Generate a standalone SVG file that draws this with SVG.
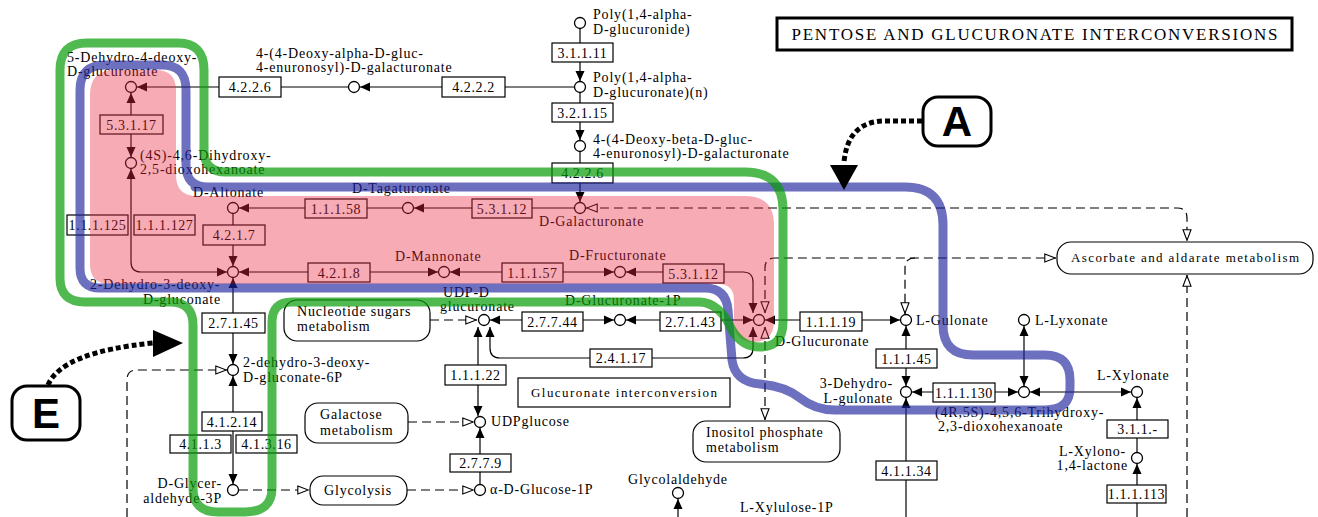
<svg xmlns="http://www.w3.org/2000/svg" width="1318" height="517" viewBox="0 0 1318 517">
<style>
.c{fill:#fff;stroke:#000;stroke-width:1.3}
.e{fill:#fff;stroke:#000;stroke-width:1.2}
.m{fill:#fff;stroke:#000;stroke-width:1.2}
text{font-family:"Liberation Serif","DejaVu Serif",serif;fill:#000}
.t{font-size:14px;letter-spacing:0.8px}
.r{text-anchor:end}
.et{font-size:14px;letter-spacing:0.6px;text-anchor:middle}
.mt{font-size:13px}
.mc{text-anchor:middle}
.ln{stroke:#000;stroke-width:1.2;fill:none}
.dl{stroke:#000;stroke-width:1.2;fill:none;stroke-dasharray:9 5}
.dot{stroke:#000;stroke-width:5;fill:none;stroke-dasharray:5 3}
.cap{font-family:"Liberation Sans",Arial,sans-serif;font-weight:bold;font-size:42px;text-anchor:middle}
</style>
<defs>
<marker id="ah" viewBox="0 0 10 10" refX="10" refY="5" markerWidth="10" markerHeight="10" markerUnits="userSpaceOnUse" orient="auto-start-reverse"><path d="M0,0.5L10,5L0,9.5Z" fill="#000"/></marker>
<marker id="oh" viewBox="0 0 12 10" refX="12" refY="5" markerWidth="12" markerHeight="10" markerUnits="userSpaceOnUse" orient="auto-start-reverse"><path d="M0.8,1L11.3,5L0.8,9Z" fill="#fff" stroke="#000" stroke-width="1.1"/></marker>
</defs>
<rect x="0" y="0" width="1318" height="517" fill="#fff"/>

<g id="connectors">
<path class="ln" d="M348 87L137 87" marker-end="url(#ah)"/>
<path class="ln" d="M574 87L360 87" marker-end="url(#ah)"/>
<path class="ln" d="M580 29L580 81" marker-end="url(#ah)"/>
<path class="ln" d="M580 93L580 140" marker-end="url(#ah)"/>
<path class="ln" d="M580 152L580 202" marker-end="url(#ah)"/>
<path class="ln" d="M574 208L414 208" marker-end="url(#ah)"/>
<path class="ln" d="M402 208L239 208" marker-end="url(#ah)"/>
<path class="ln" d="M233 214L233 266" marker-end="url(#ah)"/>
<path class="ln" d="M131 157L131 93" marker-start="url(#ah)" marker-end="url(#ah)"/>
<path class="ln" d="M131 169L131 262Q131 272 141 272L227 272" marker-start="url(#ah)" marker-end="url(#ah)"/>
<path class="ln" d="M438 272L239 272" marker-start="url(#ah)" marker-end="url(#ah)"/>
<path class="ln" d="M614 272L450 272" marker-start="url(#ah)" marker-end="url(#ah)"/>
<path class="ln" d="M626 272L743 272Q753 272 753 282L753 313" marker-start="url(#ah)" marker-end="url(#ah)"/>
<path class="ln" d="M626 320L753 320" marker-start="url(#ah)" marker-end="url(#ah)"/>
<path class="ln" d="M614 320L490 320" marker-start="url(#ah)" marker-end="url(#ah)"/>
<path class="ln" d="M765 320L900 320" marker-start="url(#ah)" marker-end="url(#ah)"/>
<path class="ln" d="M753 327L753 348Q753 358 743 358L500 358Q490 358 490 348L490 327" marker-start="url(#ah)" marker-end="url(#ah)"/>
<path class="ln" d="M478 327L478 416" marker-start="url(#ah)" marker-end="url(#ah)"/>
<path class="ln" d="M480 484L480 428" marker-end="url(#ah)"/>
<path class="ln" d="M233 278L233 364" marker-start="url(#ah)" marker-end="url(#ah)"/>
<path class="ln" d="M233 376L233 484" marker-start="url(#ah)" marker-end="url(#ah)"/>
<path class="ln" d="M906 326L906 386" marker-start="url(#ah)" marker-end="url(#ah)"/>
<path class="ln" d="M912 392L1018 392" marker-start="url(#ah)" marker-end="url(#ah)"/>
<path class="ln" d="M1024 326L1024 386" marker-start="url(#ah)" marker-end="url(#ah)"/>
<path class="ln" d="M1030 392L1131 392" marker-start="url(#ah)" marker-end="url(#ah)"/>
<path class="ln" d="M1137 452L1137 398" marker-end="url(#ah)"/>
<path class="ln" d="M1137 517L1137 464" marker-end="url(#ah)"/>
<path class="ln" d="M906 517L906 398" marker-end="url(#ah)"/>
<path class="ln" d="M678 517L678 499" marker-end="url(#ah)"/>
<path class="dl" d="M586 208L1177 208Q1187 208 1187 218L1187 241" marker-start="url(#oh)" marker-end="url(#oh)"/>
<path class="dl" d="M765 313L765 268Q765 258 775 258L1056 258" marker-start="url(#oh)" marker-end="url(#oh)"/>
<path class="dl" d="M915 258Q905 258 905 268L905 314" marker-end="url(#oh)"/>
<path class="dl" d="M765 327L765 420" marker-start="url(#oh)" marker-end="url(#oh)"/>
<path class="dl" d="M430 320L477 320" marker-end="url(#oh)"/>
<path class="dl" d="M408 422L474 422" marker-end="url(#oh)"/>
<path class="dl" d="M239 490L309 490" marker-end="url(#oh)"/>
<path class="dl" d="M407 490L474 490" marker-end="url(#oh)"/>
<path class="dl" d="M127 517L127 380Q127 370 137 370L227 370" marker-end="url(#oh)"/>
<path class="dl" d="M1187 517L1187 275" marker-end="url(#oh)"/>
</g>

<g id="enzymes">
<g id="e-4.2.2.6a"><rect class="e" x="219" y="77" width="62" height="20"/><text class="et" x="250" y="92">4.2.2.6</text></g>
<g id="e-4.2.2.2"><rect class="e" x="442" y="77" width="63" height="20"/><text class="et" x="473.5" y="92">4.2.2.2</text></g>
<g id="e-3.1.1.11"><rect class="e" x="552" y="43" width="61" height="19"/><text class="et" x="582.5" y="57.5">3.1.1.11</text></g>
<g id="e-3.2.1.15"><rect class="e" x="552" y="103" width="61" height="19"/><text class="et" x="582.5" y="117.5">3.2.1.15</text></g>
<g id="e-4.2.2.6b"><rect class="e" x="552" y="163" width="61" height="20"/><text class="et" x="582.5" y="178">4.2.2.6</text></g>
<g id="e-5.3.1.17"><rect class="e" x="100" y="115" width="63" height="19"/><text class="et" x="131.5" y="129.5">5.3.1.17</text></g>
<g id="e-1.1.1.125"><rect class="e" x="67" y="215" width="61" height="20"/><text class="et" x="97.5" y="230">1.1.1.125</text></g>
<g id="e-1.1.1.127"><rect class="e" x="134" y="215" width="61" height="20"/><text class="et" x="164.5" y="230">1.1.1.127</text></g>
<g id="e-5.3.1.12a"><rect class="e" x="472" y="199" width="60" height="19"/><text class="et" x="502" y="213.5">5.3.1.12</text></g>
<g id="e-1.1.1.58"><rect class="e" x="305" y="199" width="62" height="19"/><text class="et" x="336" y="213.5">1.1.1.58</text></g>
<g id="e-4.2.1.7"><rect class="e" x="203" y="225" width="62" height="20"/><text class="et" x="234" y="240">4.2.1.7</text></g>
<g id="e-4.2.1.8"><rect class="e" x="308" y="263" width="62" height="19"/><text class="et" x="339" y="277.5">4.2.1.8</text></g>
<g id="e-1.1.1.57"><rect class="e" x="502" y="263" width="61" height="19"/><text class="et" x="532.5" y="277.5">1.1.1.57</text></g>
<g id="e-5.3.1.12b"><rect class="e" x="663" y="264" width="61" height="19"/><text class="et" x="693.5" y="278.5">5.3.1.12</text></g>
<g id="e-2.7.1.45"><rect class="e" x="202" y="313" width="63" height="20"/><text class="et" x="233.5" y="328">2.7.1.45</text></g>
<g id="e-2.7.7.44"><rect class="e" x="522" y="312" width="61" height="19"/><text class="et" x="552.5" y="326.5">2.7.7.44</text></g>
<g id="e-2.7.1.43"><rect class="e" x="660" y="312" width="61" height="19"/><text class="et" x="690.5" y="326.5">2.7.1.43</text></g>
<g id="e-1.1.1.19"><rect class="e" x="800" y="312" width="62" height="19"/><text class="et" x="831" y="326.5">1.1.1.19</text></g>
<g id="e-2.4.1.17"><rect class="e" x="590" y="349" width="62" height="18"/><text class="et" x="621" y="363">2.4.1.17</text></g>
<g id="e-1.1.1.22"><rect class="e" x="445" y="365" width="61" height="20"/><text class="et" x="475.5" y="380">1.1.1.22</text></g>
<g id="e-1.1.1.45"><rect class="e" x="876" y="349" width="61" height="19"/><text class="et" x="906.5" y="363.5">1.1.1.45</text></g>
<g id="e-1.1.1.130"><rect class="e" x="933" y="383" width="62" height="19"/><text class="et" x="964" y="397.5">1.1.1.130</text></g>
<g id="e-3.1.1.-"><rect class="e" x="1107" y="420" width="61" height="18"/><text class="et" x="1137.5" y="434">3.1.1.-</text></g>
<g id="e-1.1.1.113"><rect class="e" x="1107" y="485" width="59" height="18"/><text class="et" x="1136.5" y="499">1.1.1.113</text></g>
<g id="e-4.1.1.34"><rect class="e" x="876" y="461" width="61" height="19"/><text class="et" x="906.5" y="475.5">4.1.1.34</text></g>
<g id="e-4.1.2.14"><rect class="e" x="202" y="412" width="60" height="19"/><text class="et" x="232" y="426.5">4.1.2.14</text></g>
<g id="e-4.1.1.3"><rect class="e" x="170" y="435" width="61" height="18"/><text class="et" x="200.5" y="449">4.1.1.3</text></g>
<g id="e-4.1.3.16"><rect class="e" x="236" y="435" width="61" height="18"/><text class="et" x="266.5" y="449">4.1.3.16</text></g>
<g id="e-2.7.7.9"><rect class="e" x="450" y="454" width="61" height="18"/><text class="et" x="480.5" y="468">2.7.7.9</text></g>
</g>

<g id="compounds">
<g id="c-5dehydro"><circle class="c" cx="131" cy="87" r="5.5"/><text class="t" x="67" y="62">5-Dehydro-4-deoxy-</text><text class="t" x="67" y="76">D-glucuronate</text></g>
<g id="c-deoxyalpha"><circle class="c" cx="354" cy="87" r="5.5"/><text class="t" x="256" y="58">4-(4-Deoxy-alpha-D-gluc-</text><text class="t" x="256" y="72">4-enuronosyl)-D-galacturonate</text></g>
<g id="c-polyglucuronide"><circle class="c" cx="580" cy="23" r="5.5"/><text class="t" x="593" y="19">Poly(1,4-alpha-</text><text class="t" x="593" y="34">D-glucuronide)</text></g>
<g id="c-polyn"><circle class="c" cx="580" cy="87" r="5.5"/><text class="t" x="593" y="82">Poly(1,4-alpha-</text><text class="t" x="593" y="97">D-glucuronate)(n)</text></g>
<g id="c-deoxybeta"><circle class="c" cx="580" cy="146" r="5.5"/><text class="t" x="593" y="144">4-(4-Deoxy-beta-D-gluc-</text><text class="t" x="593" y="158">4-enuronosyl)-D-galacturonate</text></g>
<g id="c-galacturonate"><circle class="c" cx="580" cy="208" r="5.5"/><text class="t" x="539" y="226">D-Galacturonate</text></g>
<g id="c-tagaturonate"><circle class="c" cx="408" cy="208" r="5.5"/><text class="t" x="352" y="193">D-Tagaturonate</text></g>
<g id="c-altonate"><circle class="c" cx="233" cy="208" r="5.5"/><text class="t" x="193" y="197">D-Altonate</text></g>
<g id="c-dihydroxy"><circle class="c" cx="131" cy="163" r="5.5"/><text class="t" x="140" y="160">(4S)-4,6-Dihydroxy-</text><text class="t" x="140" y="174">2,5-dioxohexanoate</text></g>
<g id="c-kdg"><circle class="c" cx="233" cy="272" r="5.5"/><text class="t" x="90" y="289">2-Dehydro-3-deoxy-</text><text class="t" x="143" y="304">D-gluconate</text></g>
<g id="c-mannonate"><circle class="c" cx="444" cy="272" r="5.5"/><text class="t" x="395" y="261">D-Mannonate</text></g>
<g id="c-fructuronate"><circle class="c" cx="620" cy="272" r="5.5"/><text class="t" x="569" y="260">D-Fructuronate</text></g>
<g id="c-glucuronate"><circle class="c" cx="759" cy="320" r="5.5"/><text class="t" x="775" y="346">D-Glucuronate</text></g>
<g id="c-udpglcA"><circle class="c" cx="484" cy="320" r="5.5"/><text class="t" x="443" y="297">UDP-D</text><text class="t" x="440" y="311">glucuronate</text></g>
<g id="c-glcA1p"><circle class="c" cx="620" cy="320" r="5.5"/><text class="t" x="565" y="305">D-Glucuronate-1P</text></g>
<g id="c-gulonate"><circle class="c" cx="906" cy="320" r="5.5"/><text class="t" x="916" y="325">L-Gulonate</text></g>
<g id="c-lyxonate"><circle class="c" cx="1024" cy="320" r="5.5"/><text class="t" x="1035" y="325">L-Lyxonate</text></g>
<g id="c-dehydrogulonate"><circle class="c" cx="906" cy="392" r="5.5"/><text class="t r" x="893" y="388">3-Dehydro-</text><text class="t r" x="893" y="403">L-gulonate</text></g>
<g id="c-trihydroxy"><circle class="c" cx="1024" cy="392" r="5.5"/><text class="t" x="935" y="417">(4R,5S)-4,5,6-Trihydroxy-</text><text class="t" x="938" y="431">2,3-dioxohexanoate</text></g>
<g id="c-xylonate"><circle class="c" cx="1137" cy="392" r="5.5"/><text class="t" x="1097" y="380">L-Xylonate</text></g>
<g id="c-xylonolactone"><circle class="c" cx="1137" cy="458" r="5.5"/><text class="t r" x="1126" y="456">L-Xylono-</text><text class="t r" x="1128" y="470">1,4-lactone</text></g>
<g id="c-kdg6p"><circle class="c" cx="233" cy="370" r="5.5"/><text class="t" x="243" y="367">2-dehydro-3-deoxy-</text><text class="t" x="243" y="382">D-gluconate-6P</text></g>
<g id="c-ga3p"><circle class="c" cx="233" cy="490" r="5.5"/><text class="t r" x="222" y="488">D-Glycer-</text><text class="t r" x="222" y="503">aldehyde-3P</text></g>
<g id="c-udpglucose"><circle class="c" cx="480" cy="422" r="5.5"/><text class="t" x="491" y="426">UDPglucose</text></g>
<g id="c-glc1p"><circle class="c" cx="480" cy="490" r="5.5"/><text class="t" x="490" y="494">α-D-Glucose-1P</text></g>
<g id="c-glycolaldehyde"><circle class="c" cx="678" cy="493" r="5.5"/><text class="t" x="628" y="484">Glycolaldehyde</text></g>
<g id="c-xylulose1p"><text class="t" x="740" y="512">L-Xylulose-1P</text></g>
</g>

<g id="maps">
<g id="m-nucleotide"><rect class="m" x="284" y="300" width="146" height="41" rx="13"/><text class="t" x="297" y="316">Nucleotide sugars</text><text class="t" x="297" y="331">metabolism</text></g>
<g id="m-galactose"><rect class="m" x="305" y="403" width="103" height="40" rx="13"/><text class="t" x="320" y="419">Galactose</text><text class="t" x="320" y="435">metabolism</text></g>
<g id="m-glycolysis"><rect class="m" x="310" y="476" width="97" height="29" rx="13"/><text class="t mc" x="358" y="495">Glycolysis</text></g>
<g id="m-glucuronate"><rect class="m" x="518" y="378" width="212" height="29"/><text class="mt mc" x="624" y="397" textLength="186">Glucuronate interconversion</text></g>
<g id="m-inositol"><rect class="m" x="693" y="421" width="147" height="41" rx="13"/><text class="t" x="706" y="437">Inositol phosphate</text><text class="t" x="706" y="452">metabolism</text></g>
<g id="m-ascorbate"><rect class="m" x="1057" y="242" width="256" height="32" rx="14"/><text class="mt mc" x="1185" y="262" textLength="228">Ascorbate and aldarate metabolism</text></g>
</g>

<g id="highlights">
<path d="M90 95Q90 70 115 70L155 70Q176 70 176 90L176 175Q176 196 197 196L745 196Q774 196 774 225L774 320Q774 342 754 342Q734 342 734 322L734 300Q734 284 718 284L110 284Q90 284 90 264Z" fill="#e72640" fill-opacity="0.39"/>
<path d="M195 187L905 187Q943 187 943 225L943 325Q943 355 973 355L1045 355Q1070 355 1070 380L1070 388Q1070 410 1045 410L835 410Q815 410 800 398Q785 386 760 384Q735 382 732 360L728 310Q726 288 705 288L100 288Q80 288 80 268L80 90Q80 65 105 65L162 65Q186 65 186 90L186 165Q186 187 208 187Z" fill="none" stroke="#1d239b" stroke-opacity="0.65" stroke-width="9" stroke-linejoin="round"/>
<path d="M60 270L60 70Q60 43 87 43L178 43Q204 43 204 70L204 150Q204 172 226 172L745 172Q783 172 783 210L783 322Q783 347 760 347Q742 347 732 330Q720 303 700 302L292 302Q272 302 272 322L272 488Q272 512 245 512L218 512Q193 512 193 488L193 325Q193 302 170 302L85 302Q60 302 60 278Z" fill="none" stroke="#059b05" stroke-opacity="0.7" stroke-width="9" stroke-linejoin="round"/>
</g>

<g id="title"><rect x="777" y="18" width="515" height="32" fill="#fff" stroke="#000" stroke-width="3"/><text x="1034.5" y="40" font-size="17" text-anchor="middle" textLength="486" lengthAdjust="spacing">PENTOSE AND GLUCURONATE INTERCONVERSIONS</text></g>

<g id="callout-A"><path class="dot" d="M922 121L885 121Q848 121 844 162"/><path d="M830 165L858 165L844 190Z" fill="#000"/><rect x="923" y="97" width="68" height="49" rx="15" fill="#fff" stroke="#000" stroke-width="3"/><text class="cap" x="957" y="136">A</text></g>
<g id="callout-E"><path class="dot" d="M48 385Q62 352 153 343"/><path d="M153 330L153 357L183 343Z" fill="#000"/><rect x="12" y="386" width="68" height="54" rx="15" fill="#fff" stroke="#000" stroke-width="3"/><text class="cap" x="46" y="428">E</text></g>
</svg>
